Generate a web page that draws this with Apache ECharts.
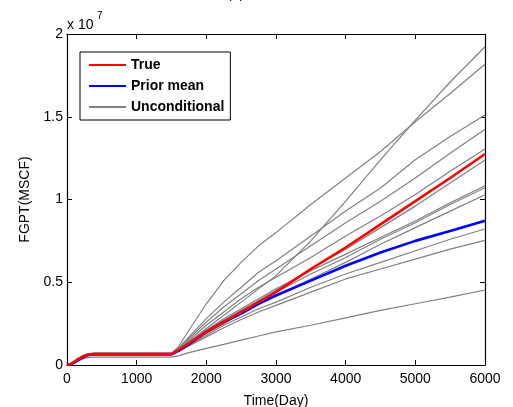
<!DOCTYPE html>
<html><head><meta charset="utf-8">
<script src="https://cdn.jsdelivr.net/npm/echarts@6/dist/echarts.min.js"></script>
<style>html,body{margin:0;padding:0;background:#fff}#c{width:513px;height:407px}</style>
</head><body><div id="c"></div>
<script>
// Time (days)
const days = [0,50,100,150,200,250,300,350,400,1500,1600,1750,2000,2250,2500,2750,3000,3500,4000,4500,5000,5500,6000];
// FGPT values in units of 1e7 MSCF
const trueVals  = [0,0.006,0.018,0.032,0.045,0.055,0.062,0.065,0.066,0.066, 0.09,0.13,0.20,0.26,0.32,0.38,0.44,0.58,0.71,0.85,0.99,1.13,1.275];
const priorMean = [0,0.004,0.013,0.026,0.040,0.051,0.059,0.063,0.064,0.064, 0.085,0.125,0.20,0.26,0.31,0.37,0.42,0.51,0.60,0.68,0.75,0.81,0.872];
const u1  = [0,0.006,0.019,0.034,0.047,0.058,0.065,0.068,0.069,0.069, 0.09,0.14,0.22,0.30,0.38,0.46,0.54,0.75,0.99,1.24,1.48,1.71,1.923];
const u2  = [0,0.007,0.020,0.035,0.048,0.059,0.066,0.069,0.070,0.070, 0.11,0.21,0.37,0.51,0.62,0.72,0.80,0.97,1.13,1.29,1.47,1.64,1.817];
const u3  = [0,0.007,0.020,0.035,0.049,0.060,0.067,0.070,0.071,0.071, 0.10,0.17,0.28,0.38,0.47,0.56,0.63,0.78,0.93,1.07,1.24,1.38,1.51];
const u4  = [0,0.006,0.019,0.034,0.048,0.059,0.066,0.069,0.070,0.070, 0.10,0.16,0.26,0.35,0.43,0.51,0.58,0.72,0.86,0.99,1.13,1.28,1.424];
const u5  = [0,0.006,0.019,0.033,0.047,0.058,0.065,0.068,0.069,0.069, 0.095,0.15,0.24,0.32,0.40,0.47,0.53,0.65,0.78,0.90,1.03,1.17,1.305];
const u6  = [0,0.006,0.018,0.033,0.046,0.057,0.064,0.067,0.068,0.068, 0.09,0.135,0.21,0.27,0.33,0.39,0.45,0.58,0.70,0.83,0.96,1.10,1.239];
const u7  = [0,0.007,0.020,0.036,0.050,0.061,0.068,0.071,0.072,0.072, 0.09,0.14,0.21,0.28,0.34,0.40,0.46,0.57,0.67,0.77,0.87,0.98,1.083];
const u8  = [0,0.006,0.019,0.034,0.047,0.058,0.065,0.068,0.069,0.069, 0.088,0.13,0.20,0.265,0.325,0.385,0.44,0.55,0.65,0.76,0.86,0.97,1.071];
const u9  = [0,0.006,0.018,0.032,0.045,0.056,0.063,0.066,0.067,0.067, 0.087,0.125,0.19,0.25,0.31,0.37,0.42,0.52,0.62,0.73,0.83,0.93,1.029];
const u10 = [0,0.006,0.018,0.033,0.046,0.057,0.064,0.067,0.068,0.068, 0.085,0.12,0.18,0.24,0.29,0.34,0.38,0.47,0.55,0.62,0.69,0.76,0.822];
const u11 = [0,0.006,0.018,0.032,0.045,0.056,0.063,0.066,0.067,0.067, 0.083,0.115,0.17,0.225,0.275,0.32,0.36,0.44,0.52,0.58,0.64,0.70,0.753];
const u12 = [0,0.004,0.012,0.022,0.032,0.040,0.045,0.047,0.048,0.048, 0.055,0.075,0.10,0.125,0.15,0.175,0.20,0.24,0.285,0.33,0.37,0.41,0.453];
const unconditional = [u1,u2,u3,u4,u5,u6,u7,u8,u9,u10,u11,u12];
const xTicks = {min:0, max:6000, interval:1000};
const yTicks = {min:0, max:2, interval:0.5};

const pairs = v => days.map((d,i)=>[d, v[i]]);
const FONT = '"Liberation Sans", Arial, Helvetica, sans-serif';

const series = [];
unconditional.forEach(u => series.push({
  name:'Unconditional', type:'line', data:pairs(u), symbol:'none', silent:true,
  lineStyle:{color:'#808080', width:1.2}, itemStyle:{color:'#808080'}, z:2, animation:false
}));
series.push({name:'Prior mean', type:'line', data:pairs(priorMean), symbol:'none',
  lineStyle:{color:'#0000ff', width:2.6}, itemStyle:{color:'#0000ff'}, z:3, animation:false});
series.push({name:'True', type:'line', data:pairs(trueVals), symbol:'none',
  lineStyle:{color:'#ff0000', width:2.6}, itemStyle:{color:'#ff0000'}, z:4, animation:false});

const axisCommon = {
  axisLine:{show:true, onZero:false, lineStyle:{color:'#000', width:1.2}},
  axisTick:{show:true, inside:true, length:5, lineStyle:{color:'#000', width:1}},
  splitLine:{show:false}
};

const chart = echarts.init(document.getElementById('c'), null, {renderer:'canvas'});
chart.setOption({
  animation:false,
  backgroundColor:'#fff',
  grid:{left:67, right:28, top:34, bottom:42, containLabel:false, outerBoundsMode:'none'},
  legend:{
    data:['True','Prior mean','Unconditional'],
    orient:'vertical', left:80, top:52,
    itemWidth:37, itemHeight:14, itemGap:7,
    padding:[6,6,6,8],
    borderColor:'#000', borderWidth:1, backgroundColor:'#fff',
    selectedMode:false,
    itemStyle:{opacity:0},
    textStyle:{fontFamily:FONT, fontSize:14, fontWeight:'bold', color:'#000'}
  },
  xAxis:[
    Object.assign({type:'value', position:'bottom', min:xTicks.min, max:xTicks.max, interval:xTicks.interval,
      name:'Time(Day)', nameLocation:'middle', nameGap:29,
      nameTextStyle:{fontFamily:FONT, fontSize:14, color:'#000'},
      axisLabel:{fontFamily:FONT, fontSize:14, color:'#000', margin:7, formatter:v=>String(v)}}, axisCommon),
    Object.assign({type:'value', position:'top', min:xTicks.min, max:xTicks.max, interval:xTicks.interval,
      axisLabel:{show:false}}, axisCommon)
  ],
  yAxis:[
    Object.assign({type:'value', position:'left', min:yTicks.min, max:yTicks.max, interval:yTicks.interval,
      name:'FGPT(MSCF)', nameLocation:'middle', nameGap:34, nameRotate:90,
      nameTextStyle:{fontFamily:FONT, fontSize:14, color:'#000'},
      axisLabel:{fontFamily:FONT, fontSize:14, color:'#000', margin:4, formatter:v=>String(v)}}, axisCommon),
    Object.assign({type:'value', position:'right', min:yTicks.min, max:yTicks.max, interval:yTicks.interval,
      axisLabel:{show:false}}, axisCommon)
  ],
  graphic:[
    {type:'text', left:67, top:18, style:{text:'x 10', font:'14px '+FONT, fill:'#000'}},
    {type:'text', left:97, top:11, style:{text:'7', font:'10px '+FONT, fill:'#000'}},
    {type:'text', left:227, top:-13, style:{text:'(a)', font:'14px '+FONT, fill:'#000'}}
  ],
  series:series
});
</script>
</body></html>
